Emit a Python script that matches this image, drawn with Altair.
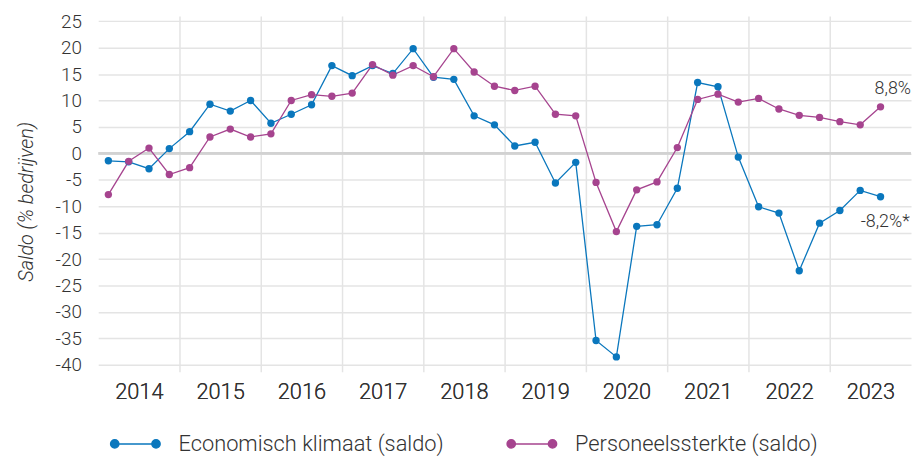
import altair as alt
import pandas as pd

years = list(range(2014, 2024))
quarters = [1, 2, 3, 4]
series_names = ["Economisch klimaat (saldo)", "Personeelssterkte (saldo)"]
colors = ["#0a77bd", "#a6448f"]

economisch = [-1.4, -1.6, -2.9, 0.9, 4.1, 9.3, 8.0, 10.0, 5.7, 7.4, 9.2, 16.6, 14.7,
              16.6, 15.1, 19.8, 14.4, 14.0, 7.1, 5.4, 1.4, 2.1, -5.6, -1.7, -35.4,
              -38.5, -13.8, -13.5, -6.6, 13.4, 12.6, -0.7, -10.1, -11.3, -22.2,
              -13.2, -10.8, -7.0, -8.2]
personeel = [-7.8, -1.5, 1.0, -4.0, -2.7, 3.1, 4.6, 3.1, 3.7, 10.0, 11.1, 10.8, 11.4,
             16.8, 14.8, 16.6, 14.5, 19.8, 15.4, 12.7, 11.9, 12.7, 7.4, 7.1, -5.5,
             -14.8, -6.9, -5.4, 1.1, 10.2, 11.2, 9.7, 10.4, 8.4, 7.2, 6.8, 6.0, 5.4, 8.8]
y_ticks = list(range(-40, 30, 5))

periods = [(y, q) for y in years for q in quarters][:len(economisch)]
rows = []
for (yr, q), e, p in zip(periods, economisch, personeel):
    t = yr + (q - 0.5) / 4
    rows.append({"t": t, "reeks": series_names[0], "waarde": e})
    rows.append({"t": t, "reeks": series_names[1], "waarde": p})
df = pd.DataFrame(rows)

t_last = periods[-1][0] + (periods[-1][1] - 0.5) / 4
fmt = lambda v: f"{v:.1f}".replace(".", ",") + "%"
lbl_p = pd.DataFrame([{"t": t_last, "waarde": personeel[-1], "tekst": fmt(personeel[-1])}])
lbl_e = pd.DataFrame([{"t": t_last, "waarde": economisch[-1], "tekst": fmt(economisch[-1]) + "*"}])

GRID = "#e4e4e4"
TXT = "#333333"
FONT = "Roboto"
W, H = 820, 352

xscale = alt.Scale(domain=[2014, 2024], nice=False, zero=False)
yscale = alt.Scale(domain=[-40, 26], nice=False, zero=False)

grid_axis = alt.Axis(values=years[1:], grid=True, gridColor=GRID, gridWidth=1.5,
                     ticks=True, tickSize=7, tickColor=GRID, tickWidth=1.5,
                     labels=False, domain=False, title=None, orient="bottom")
label_axis = alt.Axis(values=[y + 0.5 for y in years], labelExpr="'' + floor(datum.value)",
                      grid=False, ticks=False, domain=False, labelFont=FONT,
                      labelFontSize=22, labelFontWeight=300, labelColor=TXT,
                      labelPadding=17, title=None, orient="bottom")
y_axis = alt.Axis(values=y_ticks, grid=True, gridColor=GRID, gridWidth=1.5, ticks=False,
                  domain=False, labelFont=FONT, labelFontSize=19, labelFontWeight=300,
                  labelColor=TXT, labelPadding=17, labelExpr="'' + datum.value",
                  title="Saldo (% bedrijven)",
                  titleFont=FONT, titleFontSize=20, titleFontStyle="italic",
                  titleFontWeight=300, titleColor=TXT, titlePadding=19, titleY=187)

SYM = ("M-0.85,0L0.85,0"
       "M-1.02,0A0.17,0.17,0,1,0,-0.68,0A0.17,0.17,0,1,0,-1.02,0Z"
       "M0.68,0A0.17,0.17,0,1,0,1.02,0A0.17,0.17,0,1,0,0.68,0Z")

legend = alt.Legend(title=None, orient="none", legendX=12, legendY=406,
                    direction="horizontal", symbolType=SYM, symbolSize=2401,
                    symbolStrokeWidth=1.5, labelFont=FONT, labelFontSize=22,
                    labelFontWeight=300, labelColor=TXT, labelOffset=18,
                    labelLimit=500, columnPadding=60, padding=0, symbolOpacity=1)

zero = alt.Chart(pd.DataFrame({"v": [0]})).mark_rule(color="#d2d2d2", strokeWidth=3).encode(
    y=alt.Y("v:Q", scale=yscale, axis=y_axis))

lines = alt.Chart(df).mark_line(
    strokeWidth=1.3,
    point=alt.OverlayMarkDef(filled=True, size=55, opacity=1)
).encode(
    x=alt.X("t:Q", scale=xscale, axis=grid_axis),
    y=alt.Y("waarde:Q", scale=yscale, axis=y_axis),
    color=alt.Color("reeks:N", scale=alt.Scale(domain=series_names, range=colors), legend=legend),
)

txt_p = alt.Chart(lbl_p).mark_text(align="left", baseline="alphabetic", dx=-6, dy=-13,
                                   font=FONT, fontSize=18, fontWeight=300, color=TXT).encode(
    x=alt.X("t:Q", scale=xscale, axis=label_axis),
    y=alt.Y("waarde:Q", scale=yscale, axis=y_axis),
    text="tekst:N")
txt_e = alt.Chart(lbl_e).mark_text(align="left", baseline="alphabetic", dx=-20, dy=31,
                                   font=FONT, fontSize=18, fontWeight=300, color=TXT).encode(
    x=alt.X("t:Q", scale=xscale, axis=label_axis),
    y=alt.Y("waarde:Q", scale=yscale, axis=y_axis),
    text="tekst:N")

chart = alt.layer(zero, lines, txt_p, txt_e).resolve_axis(x="independent").properties(
    width=W, height=H,
    autosize=alt.AutoSizeParams(type="none"),
    padding={"left": 91, "top": 6, "right": 1, "bottom": 92},
    background="white",
).configure_view(stroke=None)

chart.save("out.html", embed_options={"renderer": "svg", "actions": False})
